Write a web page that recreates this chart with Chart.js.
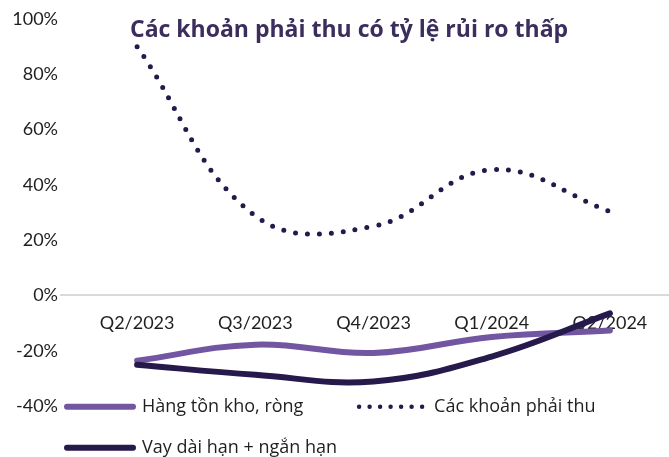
<!DOCTYPE html>
<html><head><meta charset="utf-8">
<script src="https://cdn.jsdelivr.net/npm/chart.js@4.4.1/dist/chart.umd.min.js"></script>
<style>html,body{margin:0;padding:0;background:#fff}#wrap{width:669px;height:457px;position:relative}</style>
</head><body><div id="wrap"><canvas id="c"></canvas></div>
<script>
const categories = ['Q2/2023', 'Q3/2023', 'Q4/2023', 'Q1/2024', 'Q2/2024'];
const inventory = [-23.6, -17.8, -20.8, -15.0, -12.7];
const receivables = [90.0, 28.8, 25.0, 45.5, 30.4];
const borrowings = [-25.1, -28.7, -31.1, -22.1, -6.5];
const seriesNames = ['Hàng tồn kho, ròng', 'Các khoản phải thu', 'Vay dài hạn + ngắn hạn'];
const yTicks = [-40, -20, 0, 20, 40, 60, 80, 100];
const titleText = 'Các khoản phải thu có tỷ lệ rủi ro thấp';

const FONT = 'Lato';
const LFONT = 'Open Sans';
const TXT = '#1f1f1f';
const FS = 18;
const LFS = 18;
const colors = ['#7356a2', '#24194b', '#261a4c'];

const placeBoxes = {
  id: 'placeBoxes',
  afterLayout(chart) {
    const t = chart.titleBlock;
    if (t) { const h = t.bottom - t.top; t.top = 20.5; t.bottom = t.top + h; t.left = 130; }
    const l = chart.legend;
    if (l) { l.top = 406.7 - 23 - LFS / 2; l.bottom = 457; l.height = l.bottom - l.top; l.left = 67 - 23; l.right = 669; l.width = l.right - l.left; }
  }
};

function padText(chart, text, target) {
  const ctx = chart.ctx;
  ctx.save();
  ctx.font = LFS + 'px "' + LFONT + '"';
  let s = text;
  let n = 0;
  while (ctx.measureText(s).width < target && n < 80) { s += ' '; n++; }
  ctx.restore();
  return s;
}

new Chart(document.getElementById('c'), {
  type: 'line',
  data: {
    labels: categories,
    datasets: [
      { label: seriesNames[0], data: inventory, borderColor: colors[0], backgroundColor: colors[0], borderWidth: 6, tension: 0.4, pointRadius: 0, borderCapStyle: 'round', borderJoinStyle: 'round', order: 2 },
      { label: seriesNames[1], data: receivables, borderColor: colors[1], backgroundColor: colors[1], borderWidth: 5, borderDash: [0, 12], tension: 0.4, pointRadius: 0, borderCapStyle: 'round', order: 1 },
      { label: seriesNames[2], data: borrowings, borderColor: colors[2], backgroundColor: colors[2], borderWidth: 6, tension: 0.4, pointRadius: 0, borderCapStyle: 'round', borderJoinStyle: 'round', order: 0 }
    ]
  },
  options: {
    responsive: true,
    maintainAspectRatio: false,
    animation: false,
    devicePixelRatio: 1,
    layout: { padding: { left: 0, right: 0, top: 0, bottom: 0 } },
    scales: {
      x: {
        type: 'category',
        position: { y: 0 },
        offset: true,
        grid: { display: false },
        border: { display: false },
        ticks: { font: { family: FONT, size: FS }, color: TXT, padding: 9, maxRotation: 0, autoSkip: false }
      },
      y: {
        min: -40, max: 100,
        afterFit(scale) { scale.width = 78; },
        afterBuildTicks(scale) { scale.ticks = yTicks.map(v => ({ value: v })); },
        border: { display: false },
        grid: {
          drawTicks: true, tickLength: 18, lineWidth: 2,
          color: (c) => (c.tick && c.tick.value === 0) ? '#d9d9d9' : 'rgba(0,0,0,0)'
        },
        ticks: { font: { family: FONT, size: FS }, color: TXT, padding: 2, callback: (v) => v + '%' }
      }
    },
    plugins: {
      tooltip: { enabled: false },
      title: {
        display: true, text: titleText, align: 'start', color: '#3b2e5c',
        font: { family: LFONT, size: 23, weight: 'bold', lineHeight: '19px' },
        padding: 0
      },
      legend: {
        position: 'bottom', align: 'start', maxHeight: 51,
        labels: {
          usePointStyle: true, pointStyle: 'line', pointStyleWidth: 66, padding: 23,
          font: { family: LFONT, size: LFS }, color: TXT,
          generateLabels(chart) {
            return chart.data.datasets.map((ds, i) => ({
              text: i === 0 ? padText(chart, seriesNames[i], 355 - 67 - 23 - 66 - LFS / 2) : seriesNames[i],
              fillStyle: ds.borderColor, strokeStyle: ds.borderColor,
              lineWidth: i === 1 ? 4.5 : 6,
              lineDash: i === 1 ? [0, 10.5] : [],
              lineCap: 'round', pointStyle: 'line', fontColor: TXT,
              hidden: false, datasetIndex: i
            }));
          }
        }
      }
    }
  },
  plugins: [placeBoxes]
});
</script></body></html>
